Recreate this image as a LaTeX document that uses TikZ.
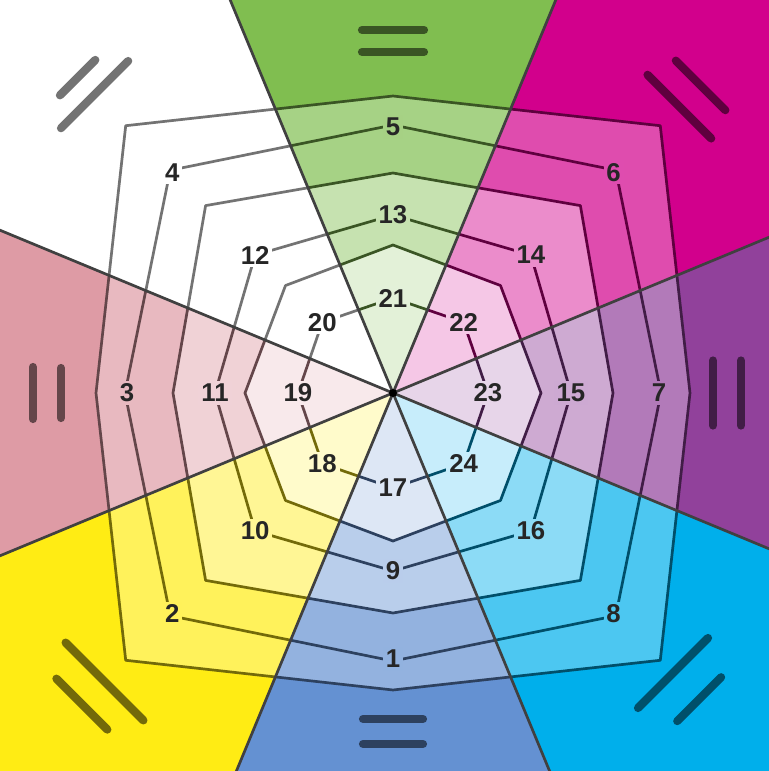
\documentclass[tikz,border=0pt]{standalone}
\usepackage{fontspec}
\setsansfont{Liberation Sans}

\definecolor{cBlu}{RGB}{100,145,210}
\definecolor{cGia}{RGB}{255,236,20}
\definecolor{cRos}{RGB}{222,155,165}
\definecolor{cVer}{RGB}{128,190,80}
\definecolor{cMag}{RGB}{210,0,140}
\definecolor{cVio}{RGB}{145,65,155}
\definecolor{cCia}{RGB}{0,175,235}

% ottagono: raggio sugli assi, raggio sulle diagonali
\newcommand{\octa}[2]{(0:#1) -- (45:#2) -- (90:#1) -- (135:#2) -- (180:#1) -- (225:#2) -- (270:#1) -- (315:#2) -- cycle}

\begin{document}
\begin{tikzpicture}[x=0.03cm,y=0.03cm,
    linea/.style={line width=2.3pt,line join=round},
    raggio/.style={line width=2.3pt,black!75},
    numero/.style={font=\sffamily\bfseries\fontsize{22}{22}\selectfont,text=black!85,inner sep=2.5pt},
    barra/.style={line width=7pt,line cap=round}]

    % cornice
    \useasboundingbox (-393,-378) rectangle (376,393);
    \clip (-393,-378) rectangle (376,393);

    % settori e anelli
    \foreach \k/\ang/\col/\ra/\la/\rb/\lb in {1/270/cBlu/326/60/351/60,
        2/225/cGia/408/110/440/72, 3/180/cRos/332/50/360/52,
        4/135/white/422/95/446/50, 5/90/cVer/341/62/363/62,
        6/45/cMag/405/90/435/70, 7/0/cVio/320/65/348/65,
        8/-45/cCia/396/99/433/62}{
        \begin{scope}
            \clip (0,0) -- (\ang-22.5:1200) -- (\ang+22.5:1200) -- cycle;
            \fill[\col] (-400,-400) rectangle (400,400);
            \fill[\col!70!white] \octa{297}{378};
            \fill[\col!45!white] \octa{220}{265};
            \fill[\col!22!white] \octa{148}{152};
            \draw[linea,\col!45!black] \octa{297}{378} \octa{268}{315} \octa{220}{265}
                \octa{178}{195} \octa{148}{152} \octa{95}{100};
        \end{scope}
        % scritte esterne
        \begin{scope}[rotate=\ang-90]
            \draw[barra,\col!45!black] (-\la/2,\ra) -- (\la/2,\ra);
            \draw[barra,\col!45!black] (-\lb/2,\rb) -- (\lb/2,\rb);
        \end{scope}
    }

    % raggi
    \foreach \a in {22.5,67.5,...,337.5}
        \draw[raggio] (0,0) -- (\a:1200);
    \fill[black] (0,0) circle (4);

    % numeri
    \foreach \k/\ang/\col in {1/270/cBlu,2/225/cGia,3/180/cRos,4/135/white,
        5/90/cVer,6/45/cMag,7/0/cVio,8/-45/cCia}{
        \pgfmathtruncatemacro\km{\k+8}
        \pgfmathtruncatemacro\ki{\k+16}
        \pgfmathsetmacro\rest{mod(\ang,90)==0 ? 266 : 312}
        \pgfmathsetmacro\rmed{mod(\ang,90)==0 ? 178 : 195}
        \pgfmathsetmacro\rint{mod(\ang,90)==0 ? 95 : 100}
        \node[numero,fill=\col!70!white] (n\k) at (\ang:\rest) {\k};
        \node[numero,fill=\col!45!white] (n\km) at (\ang:\rmed) {\km};
        \node[numero,fill=\col!22!white] (n\ki) at (\ang:\rint) {\ki};
    }
\end{tikzpicture}
\end{document}
